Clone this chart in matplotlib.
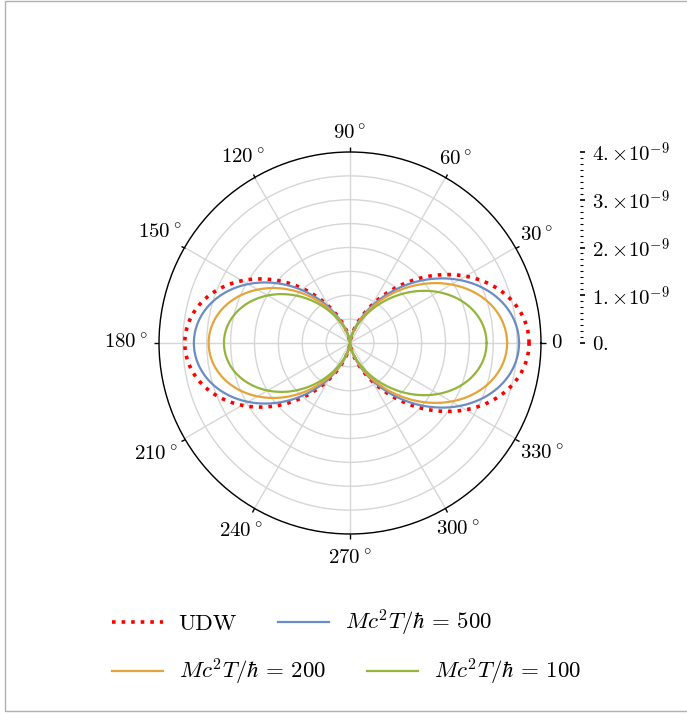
import numpy as np
import matplotlib
matplotlib.use("Agg")
import matplotlib.pyplot as plt
from matplotlib.ticker import FixedLocator, FixedFormatter, MultipleLocator
from matplotlib.patches import Rectangle

plt.rcParams['mathtext.fontset'] = 'cm'
plt.rcParams['font.family'] = ['cmr10', 'DejaVu Serif']
plt.rcParams['axes.formatter.use_mathtext'] = True

# ---- data ----
labels = ["UDW", r"$Mc^2T/\hbar\,=\,500$", r"$Mc^2T/\hbar\,=\,200$", r"$Mc^2T/\hbar\,=\,100$"]
amp_forward = [3.75e-9, 3.54e-9, 3.29e-9, 2.86e-9]   # value at 0 deg
amp_backward = [3.46e-9, 3.27e-9, 2.96e-9, 2.64e-9]  # value at 180 deg
colors = ["#ff0000", "#6a8cc4", "#e5a43a", "#93b53c"]
styles = [":", "-", "-", "-"]
widths = [2.6, 1.6, 1.6, 1.6]
theta_ticks_deg = [0, 30, 60, 90, 120, 150, 180, 210, 240, 270, 300, 330]
r_max = 4e-9
r_ticks = [0, 1e-9, 2e-9, 3e-9, 4e-9]
r_tick_labels = [r"$0.$", r"$1.{\times}10^{-9}$", r"$2.{\times}10^{-9}$",
                 r"$3.{\times}10^{-9}$", r"$4.{\times}10^{-9}$"]

# layout: per-label offset (points) of each angle label from the outer circle
label_offsets_pt = [4.3, 10.3, 8.1, 6.4, 9.2, 13.9, 16.5, 17.2, 12.7, 11.2, 11.0, 15.3]

W, H = 687, 713
fig = plt.figure(figsize=(W / 100, H / 100), dpi=100)

cx, cy, R = 350, 343, 191
ax = fig.add_axes([(cx - R) / W, (H - cy - R) / H, 2 * R / W, 2 * R / H], projection='polar')

theta = np.linspace(0, 2 * np.pi, 1441)
c = np.cos(theta)
handles = []
for a0, a1, col, ls, lw, lab in zip(amp_forward, amp_backward, colors, styles, widths, labels):
    amp = a0 * (1 + c) / 2 + a1 * (1 - c) / 2
    r = amp * c ** 2
    h, = ax.plot(theta, r, color=col, ls=ls, lw=lw, label=lab, zorder=3)
    handles.append(h)

tick_len = 3.5
ax.set_ylim(0, r_max)
ax.set_yticks(np.arange(0.5e-9, r_max + 1e-12, 0.5e-9))
ax.set_yticklabels([])
ax.set_xticks(np.deg2rad(theta_ticks_deg))
ax.set_xticklabels(["$0$" if d == 0 else r"$%d\,^{\circ}$" % d for d in theta_ticks_deg], fontsize=15)
ax.tick_params(axis='x', direction='out', length=tick_len, width=1.0, color='black',
               top=True, bottom=False)
for tick, off in zip(ax.xaxis.get_major_ticks(), label_offsets_pt):
    tick.set_pad(max(off - tick_len, 0))
ax.grid(True, color="#d6d6d6", lw=1.0)
ax.spines['polar'].set_color('black')
ax.spines['polar'].set_linewidth(1.0)

# radial scale shown as separate vertical axis on the right
ax2 = fig.add_axes([580 / W, (H - cy) / H, 0.0001, R / H])
ax2.set_ylim(0, r_max)
for s in ['left', 'top', 'bottom', 'right']:
    ax2.spines[s].set_visible(False)
ax2.set_xticks([])
ax2.patch.set_alpha(0)
ax2.yaxis.tick_right()
ax2.yaxis.set_major_locator(FixedLocator(r_ticks))
ax2.yaxis.set_major_formatter(FixedFormatter(r_tick_labels))
ax2.yaxis.set_minor_locator(MultipleLocator(r_max / 32))
ax2.tick_params(axis='y', which='major', direction='out', length=3.5, width=1.2, labelsize=15, pad=5)
ax2.tick_params(axis='y', which='minor', direction='out', length=2.5, width=0.8)
ax2.tick_params(axis='y', which='both', right=True, left=False)

# legends: two rows
kw = dict(ncol=2, frameon=False, fontsize=16.5, handlelength=2.2, handletextpad=0.7,
          columnspacing=1.8, borderaxespad=0, loc='center left')
leg1 = fig.legend(handles[:2], labels[:2], bbox_to_anchor=(103 / W, 1 - 623 / H), **kw)
leg2 = fig.legend(handles[2:], labels[2:], bbox_to_anchor=(103 / W, 1 - 672 / H), **kw)

fig.patches.append(Rectangle((4.5 / W, 2.5 / H), 1.0, 1 - 3.5 / H, transform=fig.transFigure,
                             fill=False, edgecolor="#b0b0b0", lw=1.0))

fig.savefig("out.png", dpi=100)
